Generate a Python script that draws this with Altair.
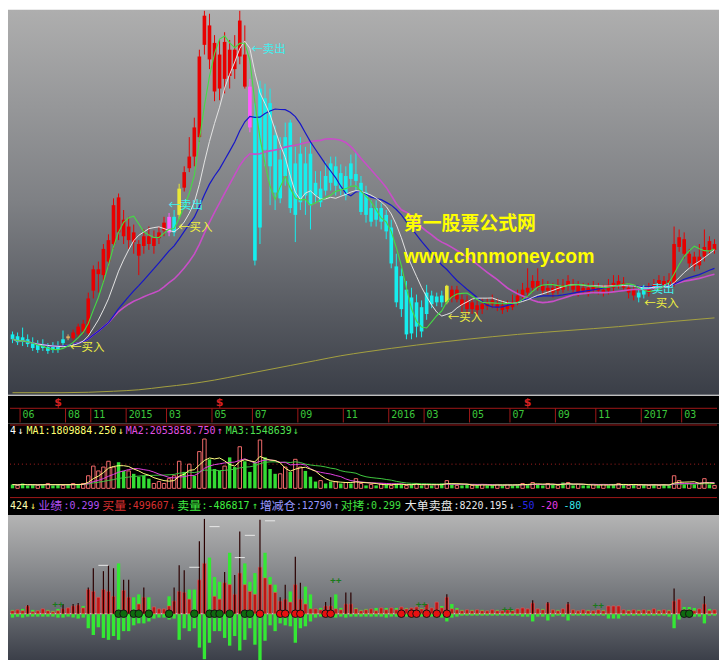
import altair as alt
import pandas as pd

N = 140
W = 711
SX = 711 / 727.0
SY = 644 / 660.0
H_PRICE, H_DATE, H_VOL, H_TXT, H_IND = 385, 26, 71, 17, 145
MONO = "DejaVu Sans Mono"
CJK = "Noto Sans CJK SC"

# ---------------- candle data (weekly) ----------------
open_ = [
    6.7, 6.5, 6.4, 6.2, 5.8, 5.7, 5.6, 5.4, 5.4, 5.5,
    6.2, 6.3, 6.3, 6.7, 7.0, 6.8, 11.2, 12.9, 12.8, 14.2,
    16.0, 17.2, 16.8, 16.4, 16.2, 14.8, 15.8, 16.0, 15.8, 16.6,
    17.4, 17.2, 18.8, 19.0, 21.8, 23.8, 25.0, 27.0, 36.5, 35.0,
    31.7, 32.0, 33.0, 33.3, 34.0, 35.3, 32.2, 32.2, 29.2, 32.0,
    31.0, 30.5, 27.2, 24.7, 27.0, 28.5, 24.3, 25.3, 24.3, 25.3,
    22.3, 21.7, 23.0, 24.3, 24.0, 23.3, 23.0, 24.3, 23.2, 22.3,
    21.3, 19.7, 19.7, 19.7, 19.0, 17.7, 13.7, 12.7, 11.3, 10.5,
    10.0, 9.5, 11.0, 10.7, 10.6, 10.7, 10.0, 10.5, 10.3, 9.7,
    9.3, 9.3, 9.2, 9.3, 9.6, 9.8, 9.5, 9.2, 9.3, 9.5,
    10.0, 10.7, 11.0, 11.5, 11.5, 11.2, 11.2, 11.0, 11.2, 11.3,
    11.7, 11.3, 11.0, 11.2, 11.0, 11.3, 11.2, 11.0, 11.2, 11.5,
    11.7, 11.5, 11.0, 10.7, 11.0, 11.2, 11.0, 11.5, 11.8, 11.8,
    11.8, 12.0, 15.7, 15.0, 14.0, 13.7, 13.8, 14.7, 15.3, 15.4,
]
close_ = [
    6.2, 5.9, 6.0, 5.7, 5.3, 5.1, 5.3, 5.0, 5.1, 5.1,
    5.8, 6.5, 6.9, 7.5, 7.8, 10.4, 13.4, 13.4, 15.5, 16.4,
    20.0, 20.8, 18.5, 17.8, 17.2, 16.0, 16.8, 16.8, 16.6, 17.2,
    18.2, 18.8, 17.2, 21.7, 23.4, 25.0, 28.0, 35.3, 39.5, 38.5,
    36.7, 35.5, 36.8, 36.0, 36.0, 39.0, 35.5, 28.0, 14.3, 17.7,
    25.7, 24.0, 21.3, 20.7, 23.0, 19.7, 19.0, 20.3, 21.0, 20.0,
    21.0, 20.3, 21.5, 22.3, 22.0, 21.7, 21.0, 22.7, 22.5, 19.3,
    19.0, 18.3, 18.5, 18.3, 17.3, 14.0, 10.0, 9.3, 6.7, 6.8,
    7.5, 7.0, 8.8, 9.8, 10.0, 10.0, 11.7, 11.3, 11.3, 10.3,
    10.2, 10.0, 9.7, 9.8, 10.0, 10.2, 9.8, 9.7, 9.7, 10.0,
    10.7, 11.3, 11.5, 12.2, 12.2, 11.7, 11.5, 11.5, 11.7, 11.8,
    12.2, 11.8, 11.7, 11.5, 11.5, 11.7, 11.5, 11.3, 11.8, 12.0,
    12.2, 12.0, 11.5, 11.3, 10.5, 10.8, 11.5, 11.8, 12.3, 12.2,
    12.3, 16.0, 16.7, 16.5, 15.0, 14.7, 14.7, 15.7, 16.3, 16.0,
]
high_ = [
    7.0, 6.9, 7.4, 6.7, 6.4, 6.1, 6.2, 5.8, 5.9, 6.0,
    7.1, 6.7, 7.2, 7.8, 8.2, 11.0, 13.8, 14.2, 16.0, 17.0,
    20.7, 21.2, 19.5, 18.8, 18.0, 16.4, 17.5, 17.8, 17.4, 17.8,
    18.8, 19.2, 19.5, 22.2, 24.0, 27.0, 29.0, 36.0, 40.0, 39.7,
    37.5, 37.0, 37.8, 37.0, 37.5, 40.0, 38.5, 33.0, 30.5, 32.8,
    32.5, 32.0, 28.2, 27.0, 28.5, 28.8, 26.0, 27.0, 26.0, 26.5,
    23.5, 23.5, 24.5, 25.0, 25.0, 24.2, 24.0, 25.2, 25.5, 23.0,
    22.0, 20.5, 20.5, 20.2, 19.5, 18.5, 15.0, 13.5, 12.2, 11.5,
    10.8, 10.2, 11.8, 11.2, 11.0, 11.2, 11.8, 11.7, 11.7, 10.8,
    10.7, 10.4, 10.2, 10.4, 10.4, 10.8, 10.4, 10.2, 10.2, 10.8,
    11.3, 12.0, 13.5, 12.8, 13.5, 12.4, 12.2, 12.0, 12.4, 12.4,
    12.8, 12.4, 12.2, 12.0, 12.0, 12.2, 12.0, 11.8, 12.4, 12.8,
    12.8, 12.6, 12.0, 11.8, 11.5, 11.8, 12.0, 12.4, 12.8, 12.7,
    13.0, 17.8, 17.5, 17.2, 15.5, 15.2, 16.0, 17.5, 16.8, 16.5,
]
low_ = [
    5.8, 5.6, 5.5, 5.4, 5.0, 4.8, 5.0, 4.7, 4.8, 4.8,
    5.5, 6.1, 6.1, 6.4, 6.7, 6.6, 10.4, 11.0, 12.0, 13.6,
    15.5, 16.4, 16.0, 15.5, 15.0, 12.8, 15.0, 15.4, 15.0, 16.0,
    16.8, 16.8, 16.8, 18.6, 21.4, 23.4, 24.0, 26.5, 35.5, 34.0,
    30.7, 30.8, 31.5, 32.0, 33.0, 34.5, 32.0, 27.5, 13.8, 16.0,
    24.0, 20.0, 19.5, 20.2, 22.0, 19.2, 16.2, 19.5, 19.0, 17.5,
    20.2, 19.8, 21.0, 21.5, 21.0, 21.0, 20.5, 22.0, 21.5, 19.0,
    18.2, 17.8, 17.8, 17.5, 16.5, 13.5, 9.5, 8.5, 6.2, 6.2,
    6.4, 6.4, 8.2, 9.4, 9.6, 9.5, 9.8, 10.0, 10.0, 9.0,
    8.8, 8.8, 8.6, 8.8, 9.2, 9.4, 9.1, 8.8, 9.0, 9.2,
    9.7, 10.4, 10.6, 11.0, 11.2, 10.8, 10.8, 10.5, 10.8, 11.0,
    11.2, 11.0, 10.6, 10.8, 10.6, 10.9, 10.8, 10.6, 10.8, 11.0,
    11.4, 11.2, 10.4, 10.2, 10.0, 10.4, 10.6, 11.2, 11.4, 11.5,
    11.5, 11.6, 15.2, 14.5, 13.5, 13.2, 13.4, 14.2, 15.0, 15.0,
]
candle_kind = (
    "cccccccccc" "corrrrrrrr" "rrrrrrrrrr" "rpcyrrrrrr" "rrrrrrrpcc"
    "cccccccccc" "cccccccccc" "cccccccccc" "ccccccyrrr" "rrrrrrrrrr"
    "rrrrrrrrrr" "rrrrrrrrrr" "rrrrccrrrr" "rrrrrrrrrr"
)
CANDLE_COLORS = {"c": "#16eeee", "r": "#e80000", "p": "#ff5cff", "y": "#e8e836", "o": "#e0b060"}

# long moving average (olive)
long_idx = [0, 10, 20, 25, 30, 35, 40, 45, 50, 55, 60, 65, 70, 80, 90, 100, 110, 120, 130, 139]
long_ma = [0.7, 0.7, 0.85, 1.0, 1.3, 1.6, 2.0, 2.5, 3.0, 3.5, 4.0, 4.5, 4.9, 5.6, 6.2, 6.7, 7.1, 7.5, 8.0, 8.4]

# ---------------- volume ----------------
volume = [
    4, 3, 5, 3, 4, 3, 4, 5, 3, 4,
    3, 4, 5, 4, 5, 13, 23, 18, 22, 28,
    22, 27, 18, 18, 15, 12, 13, 10, 5, 7,
    5, 10, 13, 28, 17, 25, 13, 38, 51, 30,
    20, 18, 23, 32, 22, 43, 28, 17, 27, 50,
    32, 20, 15, 15, 22, 17, 30, 22, 18, 12,
    7, 8, 5, 7, 7, 5, 6, 5, 10, 5,
    3, 4, 3, 5, 4, 3, 5, 4, 3, 4,
    5, 3, 4, 3, 4, 5, 8, 4, 3, 3,
    4, 3, 3, 4, 3, 3, 4, 3, 4, 3,
    4, 5, 4, 6, 4, 3, 5, 4, 3, 6,
    6, 3, 4, 3, 3, 4, 3, 4, 3, 4,
    5, 4, 3, 4, 3, 4, 3, 4, 3, 4,
    3, 13, 8, 4, 5, 4, 5, 10, 4, 3,
]
vol_kind = (
    "grgggrgrgg" "rgrgrrrrrr" "rggrggggrr" "rrrrgrgrrg" "ggrggrgggr"
    "gggrrgrrgg" "grggrgrgrr" "grgrgrggrg" "rgrgrgrgrg" "grgrggrgrg"
    "grgrggrgrg" "rgrggrgrgg" "rgrgrgrgrg" "grrgrgrrgr"
)

# ---------------- indicator ----------------
ind_red = [
    3, 4, 3, 8, 2, 3, 5, 3, 2, 3,
    5, 6, 8, 9, 6, 25, 23, 17, 25, 23,
    18, 0, 24, 17, 0, 10, 17, 0, 7, 5,
    5, 8, 13, 23, 22, 15, 0, 35, 52, 0,
    18, 15, 32, 30, 20, 42, 30, 23, 20, 48,
    37, 30, 22, 13, 15, 12, 30, 15, 10, 5,
    5, 4, 8, 8, 5, 4, 10, 10, 5, 3,
    4, 5, 3, 6, 4, 6, 4, 7, 5, 6,
    7, 5, 10, 6, 12, 6, 17, 5, 4, 3,
    4, 3, 4, 3, 3, 4, 3, 3, 4, 3,
    5, 6, 5, 11, 5, 4, 11, 4, 3, 5,
    10, 4, 3, 4, 3, 3, 4, 3, 8, 8,
    8, 4, 3, 4, 3, 4, 3, 5, 3, 4,
    3, 13, 15, 4, 4, 3, 5, 10, 3, 4,
]
ind_thin = [
    0, 0, 0, 9, 0, 0, 0, 0, 0, 0,
    10, 0, 10, 11, 0, 27, 47, 0, 44, 50,
    47, 0, 35, 35, 0, 0, 27, 0, 0, 0,
    0, 0, 27, 50, 45, 0, 0, 75, 98, 0,
    0, 0, 43, 0, 40, 85, 0, 0, 0, 97,
    0, 0, 0, 17, 30, 0, 59, 32, 0, 0,
    0, 0, 12, 17, 0, 0, 22, 22, 0, 0,
    0, 0, 0, 0, 0, 0, 0, 0, 0, 0,
    0, 0, 0, 0, 0, 0, 20, 0, 0, 0,
    0, 0, 0, 0, 0, 0, 0, 0, 0, 0,
    0, 0, 0, 14, 0, 0, 12, 0, 0, 0,
    12, 0, 0, 0, 0, 0, 0, 0, 0, 0,
    0, 0, 0, 0, 0, 0, 0, 0, 0, 0,
    0, 26, 0, 0, 0, 0, 0, 18, 0, 0,
]
ind_gup = [
    4, 3, 5, 0, 4, 3, 0, 4, 3, 5,
    0, 0, 0, 0, 8, 0, 0, 0, 0, 0,
    0, 52, 18, 0, 17, 20, 0, 17, 0, 0,
    0, 18, 0, 0, 0, 25, 25, 0, 0, 58,
    38, 33, 0, 63, 0, 0, 52, 33, 42, 0,
    63, 38, 30, 0, 0, 23, 0, 0, 28, 20,
    3, 6, 0, 0, 20, 6, 0, 0, 6, 4,
    5, 4, 6, 4, 6, 5, 6, 4, 6, 4,
    5, 6, 4, 6, 5, 8, 0, 10, 6, 4,
    3, 4, 3, 4, 3, 3, 4, 3, 3, 4,
    3, 3, 4, 0, 4, 5, 0, 4, 4, 3,
    0, 4, 3, 3, 4, 3, 4, 4, 3, 3,
    4, 3, 4, 3, 4, 3, 4, 3, 4, 3,
    4, 0, 0, 7, 7, 6, 4, 0, 5, 3,
]
ind_gdn = [
    4, 3, 4, 3, 3, 3, 3, 3, 3, 4,
    4, 3, 4, 5, 4, 15, 22, 14, 25, 27,
    23, 27, 18, 18, 12, 10, 10, 8, 5, 4,
    4, 6, 5, 27, 15, 18, 15, 35, 47, 30,
    18, 18, 25, 33, 23, 38, 27, 15, 32, 48,
    28, 12, 18, 10, 12, 13, 30, 15, 13, 8,
    4, 3, 3, 4, 4, 3, 4, 3, 3, 3,
    3, 3, 3, 3, 4, 3, 3, 3, 3, 4,
    3, 3, 3, 3, 4, 4, 8, 4, 3, 2,
    2, 2, 2, 2, 2, 2, 2, 2, 2, 2,
    2, 3, 3, 8, 3, 3, 7, 3, 2, 3,
    7, 2, 2, 2, 2, 2, 2, 2, 5, 5,
    5, 2, 2, 2, 2, 2, 2, 2, 2, 2,
    3, 15, 6, 3, 3, 3, 3, 10, 2, 2,
]
green_dots = [21, 22, 24, 25, 27, 31, 36, 39, 40, 41, 43, 46, 47, 133, 134]
red_dots = [49, 53, 54, 56, 57, 62, 63, 77, 79, 80, 82, 84, 86]
plus_idx = [9, 64, 81, 98, 116]
plus_val = [9, 34, 9, 4, 8]
dash_i0 = [17, 35, 39, 44, 46, 50]
dash_i1 = [19, 37, 41, 46, 48, 52]
dash_val = [50, 48, 90, 58, 81, 96]

# ---------------- dates / annotations ----------------
month_idx = [2, 11, 16, 23, 31, 40, 48, 57, 66, 75, 82, 91, 99, 108, 116, 125, 133]
month_lab = ["06", "08", "11", "2015", "03", "05", "07", "09", "11", "2016",
             "03", "05", "07", "09", "11", "2017", "03"]
dollar_idx = [9, 41, 102]

ann_text = ["←买入", "←卖出", "←买入", "←卖出", "←买入", "←卖出", "←买入"]
ann_i = [11.4, 30.9, 32.8, 47.3, 86.2, 124.3, 125.1]
ann_p = [5.3, 19.9, 17.6, 36.0, 8.4, 11.3, 9.8]
ann_col = ["#f0f040", "#40f0f0", "#f0f040", "#40f0f0", "#f0f040", "#40f0f0", "#f0f040"]

for arr in (open_, close_, high_, low_, volume, ind_red, ind_thin, ind_gup, ind_gdn):
    assert len(arr) == N, len(arr)
assert len(candle_kind) == N and len(vol_kind) == N

# ---------------- frames ----------------
idx = list(range(N))
cdf = pd.DataFrame({"i": idx, "open": open_, "close": close_, "high": high_, "low": low_,
                    "col": [CANDLE_COLORS[k] for k in candle_kind]})
ldf = pd.DataFrame({"i": long_idx, "m": long_ma})
vdf = pd.DataFrame({"i": idx, "v": volume, "k": list(vol_kind)})
idf = pd.DataFrame({"i": idx, "R": ind_red, "T": ind_thin, "G": ind_gup,
                    "D": [-d for d in ind_gdn]})
dots = pd.DataFrame({"i": green_dots + red_dots, "z": [0] * (len(green_dots) + len(red_dots)),
                     "c": ["#0e6a0e"] * len(green_dots) + ["#e81010"] * len(red_dots)})
plus = pd.DataFrame({"i": plus_idx, "v": plus_val})
dash = pd.DataFrame({"a": dash_i0, "b": dash_i1, "v": dash_val})
mdf = pd.DataFrame({"s": [m - 0.5 for m in month_idx], "label": month_lab})
ddf = pd.DataFrame({"i": dollar_idx})
adf = pd.DataFrame({"i": ann_i, "p": ann_p, "t": ann_text, "c": ann_col})
ONE = pd.DataFrame({"z": [0]})


def xs():
    return alt.Scale(domain=[-0.5, N - 0.5], nice=False, zero=False)


def X(field="i"):
    return alt.X(f"{field}:Q", scale=xs(), axis=None)


def grad(stops):
    return alt.LinearGradient(gradient="linear", x1=0, x2=0, y1=0, y2=1,
                              stops=[alt.GradientStop(color=c, offset=o) for o, c in stops])


def bg(h, fill):
    return alt.Chart(ONE).mark_rect(fill=fill).encode(
        x=alt.value(-2), x2=alt.value(W + 2), y=alt.value(-1), y2=alt.value(h + 1))


def hline(y, color="#a01818", dash=None):
    kw = {"color": color, "strokeWidth": 1}
    if dash:
        kw["strokeDash"] = dash
    return alt.Chart(ONE).mark_rule(**kw).encode(x=alt.value(0), x2=alt.value(W), y=alt.value(y))


def seg(txt, x, color, kind, y):
    font = MONO if kind == "m" else CJK
    size = 10 if kind == "m" else 12
    return alt.Chart(ONE).mark_text(text=txt, align="left", baseline="middle", font=font,
                                    fontSize=size, color=color).encode(
        x=alt.value(round(x * SX, 1)), y=alt.value(y))


# ---------------- price panel ----------------
yP = alt.Scale(domain=[0.6, 40.0], nice=False, zero=False)
base = alt.Chart(cdf)
wick = base.mark_rule(strokeWidth=1).encode(
    x=X(), y=alt.Y("low:Q", scale=yP, axis=None), y2="high:Q",
    color=alt.Color("col:N", scale=None))
body = base.transform_calculate(xa="datum.i - 0.36", xb="datum.i + 0.36").mark_rect().encode(
    x=X("xa"), x2="xb:Q", y=alt.Y("open:Q", scale=yP, axis=None), y2="close:Q",
    color=alt.Color("col:N", scale=None))


def ma(n, color, width, field="close", scale=yP, data=cdf):
    return alt.Chart(data).transform_window(
        m=f"mean({field})", frame=[-(n - 1), 0], sort=[alt.SortField("i")]
    ).mark_line(color=color, strokeWidth=width).encode(
        x=X(), y=alt.Y("m:Q", scale=scale, axis=None))


long_line = alt.Chart(ldf).mark_line(color="#a4a040", strokeWidth=1, interpolate="monotone").encode(
    x=X(), y=alt.Y("m:Q", scale=yP, axis=None))
ann = alt.Chart(adf).mark_text(align="left", baseline="middle", font=CJK, fontSize=11.5).encode(
    x=X(), y=alt.Y("p:Q", scale=yP, axis=None), text="t:N", color=alt.Color("c:N", scale=None))
wm1 = alt.Chart(ONE).mark_text(text="第一股票公式网", align="left", baseline="middle", font=CJK,
                               fontSize=19, fontWeight="bold", color="#ffff00").encode(
    x=alt.value(405 * SX), y=alt.value(220 * SY))
wm2 = alt.Chart(ONE).mark_text(text="www.chnmoney.com", align="left", baseline="middle",
                               font="Liberation Sans", fontSize=19.5, fontWeight="bold",
                               color="#ffff00").encode(
    x=alt.value(405 * SX), y=alt.value(254 * SY))

price = alt.layer(
    bg(H_PRICE, grad([(0, "#aeaeae"), (0.5, "#7e8084"), (1, "#3a3e47")])),
    long_line, wick, body,
    ma(30, "#c84ec8", 1.6), ma(20, "#1616c8", 1.2), ma(10, "#e4e4e4", 1.0), ma(5, "#44dc44", 1.1),
    ann, wm1, wm2,
).properties(width=W, height=H_PRICE)

# ---------------- date strip ----------------
sep = alt.Chart(mdf).mark_rule(color="#a01818", strokeWidth=1).encode(
    x=X("s"), y=alt.value(11.7), y2=alt.value(H_DATE))
lab = alt.Chart(mdf).mark_text(align="left", baseline="middle", dx=2.5, font=MONO, fontSize=10,
                               color="#3cc83c").encode(x=X("s"), y=alt.value(18.6), text="label:N")
dol = alt.Chart(ddf).mark_text(text="$", font="DejaVu Sans", fontSize=11, fontWeight="bold",
                               color="#d42020", baseline="middle").encode(x=X(), y=alt.value(6))
date = alt.layer(bg(H_DATE, "#000000"), hline(11.7), sep, lab, dol).properties(width=W, height=H_DATE)

# ---------------- volume panel ----------------
yV = alt.Scale(domain=[-7, 66], nice=False, zero=False)
vb = alt.Chart(vdf).transform_calculate(xa="datum.i - 0.34", xb="datum.i + 0.34", z="0")
vol_g = vb.transform_filter("datum.k == 'g'").mark_rect(color="#34dc34").encode(
    x=X("xa"), x2="xb:Q", y=alt.Y("v:Q", scale=yV, axis=None), y2="z:Q")
vol_r = vb.transform_filter("datum.k == 'r'").mark_rect(
    fillOpacity=0, stroke="#f06a6a", strokeWidth=1).encode(
    x=X("xa"), x2="xb:Q", y=alt.Y("v:Q", scale=yV, axis=None), y2="z:Q")
dot_line = alt.Chart(pd.DataFrame({"v": [25]})).mark_rule(
    color="#a82020", strokeDash=[1, 3], strokeWidth=1).encode(
    x=alt.value(0), x2=alt.value(W), y=alt.Y("v:Q", scale=yV, axis=None))
row1 = [("4", 0, "#ffffff", "m"), ("↓", 8, "#ffffff", "m"),
        ("MA1:1809884.250", 17, "#ffff70", "m"), ("↓", 111, "#ffff70", "m"),
        ("MA2:2053858.750", 119, "#e050e0", "m"), ("↑", 213, "#e050e0", "m"),
        ("MA3:1548639", 222, "#50e050", "m"), ("↓", 291, "#50e050", "m")]
vol = alt.layer(
    bg(H_VOL, "#000000"), hline(0.5), dot_line, vol_g, vol_r,
    ma(20, "#40c840", 1.0, "v", yV, vdf), ma(10, "#e040e0", 1.0, "v", yV, vdf),
    ma(5, "#ffff80", 1.0, "v", yV, vdf),
    *[seg(t, x, c, k, 7) for t, x, c, k in row1],
).properties(width=W, height=H_VOL)

# ---------------- text row ----------------
row2 = [("424", 0, "#ffffb0", "m"), ("↓", 21, "#ffff60", "m"),
        ("业绩", 29, "#b050f0", "c"), (":0.299", 55, "#b050f0", "m"),
        ("买量", 95, "#d83030", "c"), (":499607", 120, "#d83030", "m"), ("↓", 164, "#d83030", "m"),
        ("卖量", 172, "#40f040", "c"), (":-486817", 197, "#40f040", "m"), ("↑", 249, "#40f040", "m"),
        ("增减仓", 257, "#9898ff", "c"), (":12790", 294, "#9898ff", "m"), ("↑", 333, "#9898ff", "m"),
        ("对拷", 340, "#40e040", "c"), (":0.299", 365, "#40e040", "m"),
        ("大单卖盘", 406, "#e8e8e8", "c"), (":8220.195", 456, "#e8e8e8", "m"), ("↓", 513, "#e8e8e8", "m"),
        ("-50", 521, "#2828e8", "m"), ("-20", 545, "#e838e8", "m"), ("-80", 569, "#38e8e8", "m")]
txt = alt.layer(bg(H_TXT, "#000000"), hline(0.5),
                *[seg(t, x, c, k, 8.5) for t, x, c, k in row2]).properties(width=W, height=H_TXT)

# ---------------- indicator panel ----------------
yI = alt.Scale(domain=[-48, 101], nice=False, zero=False)
ib = alt.Chart(idf).transform_calculate(xa="datum.i - 0.33", xb="datum.i + 0.33", z="0")
zero = alt.Chart(pd.DataFrame({"v": [0]})).mark_rule(color="#d8d8e8", strokeWidth=1).encode(
    x=alt.value(0), x2=alt.value(W), y=alt.Y("v:Q", scale=yI, axis=None))
g_up = ib.transform_filter("datum.G > 0").mark_rect(color="#34e834").encode(
    x=X("xa"), x2="xb:Q", y=alt.Y("G:Q", scale=yI, axis=None), y2="z:Q")
g_dn = ib.transform_filter("datum.D < 0").mark_rect(color="#34e834").encode(
    x=X("xa"), x2="xb:Q", y=alt.Y("D:Q", scale=yI, axis=None), y2="z:Q")
r_up = ib.transform_filter("datum.R > 0").mark_rect(
    fill="#c01616", stroke="#e86060", strokeWidth=0.6).encode(
    x=X("xa"), x2="xb:Q", y=alt.Y("R:Q", scale=yI, axis=None), y2="z:Q")
thin = ib.transform_filter("datum.T > 0").mark_rule(color="#2a0000", strokeWidth=1.2).encode(
    x=X(), y=alt.Y("T:Q", scale=yI, axis=None), y2="z:Q")
dot = alt.Chart(dots).mark_circle(size=58, opacity=1, stroke="#141414", strokeWidth=1).encode(
    x=X(), y=alt.Y("z:Q", scale=yI, axis=None), color=alt.Color("c:N", scale=None))
pl = alt.Chart(plus).mark_text(text="++", color="#1a7a1a", fontSize=10, fontWeight="bold",
                               baseline="middle").encode(x=X(), y=alt.Y("v:Q", scale=yI, axis=None))
dsh = alt.Chart(dash).mark_rule(color="#e8e8e8", strokeWidth=1).encode(
    x=X("a"), x2="b:Q", y=alt.Y("v:Q", scale=yI, axis=None))
ind = alt.layer(
    bg(H_IND, grad([(0, "#b4b4b4"), (0.6, "#6f7277"), (1, "#3a3e48")])),
    zero, g_up, g_dn, r_up, thin, dot, pl, dsh,
).properties(width=W, height=H_IND)

chart = alt.vconcat(price, date, vol, txt, ind, spacing=0).resolve_scale(
    x="independent", y="independent", color="independent"
).properties(padding=0, background="#ffffff").configure_view(stroke=None)

chart.save("out.html", embed_options={"renderer": "svg", "actions": False})
